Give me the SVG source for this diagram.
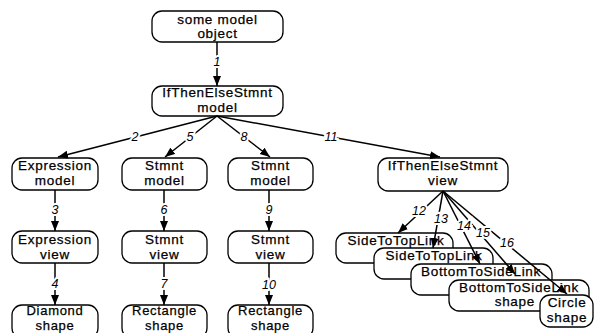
<svg xmlns="http://www.w3.org/2000/svg" width="595" height="333" viewBox="0 0 595 333">
  <style>
    .box { fill: #fff; stroke: #000; stroke-width: 1.3; }
    .t { font-family: "Liberation Sans", Arial, sans-serif; font-size: 13.5px; letter-spacing: 0.7px; text-anchor: middle; fill: #000; stroke: #000; stroke-width: 0.25; }
    .s { font-size: 13px; }
    .e { stroke: #000; stroke-width: 1.5; fill: none; marker-end: url(#ah); }
    .n { font-family: "Liberation Sans", Arial, sans-serif; font-size: 12.5px; font-style: italic; text-anchor: middle; fill: #000; stroke: #fff; stroke-width: 4; paint-order: stroke; }
  </style>
  <defs>
    <marker id="ah" viewBox="0 0 10 9" refX="10" refY="4.5" markerWidth="10" markerHeight="9" orient="auto" markerUnits="userSpaceOnUse">
      <path d="M0,0.5 L10,4.5 L0,8.5 z" fill="#000"/>
    </marker>
  </defs>
  <rect width="595" height="333" fill="#fff"/>

  <!-- model objects -->
  <g id="some-model-object">
    <rect class="box" x="152" y="11" width="131" height="31" rx="10"/>
    <text class="t" x="217.5" y="24">some model</text>
    <text class="t" x="217.5" y="38">object</text>
  </g>
  <g id="ifthenelse-model">
    <rect class="box" x="152" y="86" width="131" height="30" rx="10"/>
    <text class="t" x="217.5" y="97">IfThenElseStmnt</text>
    <text class="t" x="217.5" y="112">model</text>
  </g>

  <!-- first row under the statement model -->
  <g id="expression-model">
    <rect class="box" x="12" y="158" width="86" height="32" rx="10"/>
    <text class="t" x="55" y="170">Expression</text>
    <text class="t" x="55" y="185">model</text>
  </g>
  <g id="stmnt-model-a">
    <rect class="box" x="122" y="158" width="85" height="32" rx="10"/>
    <text class="t" x="164.5" y="170">Stmnt</text>
    <text class="t" x="164.5" y="185">model</text>
  </g>
  <g id="stmnt-model-b">
    <rect class="box" x="228" y="158" width="85" height="32" rx="10"/>
    <text class="t" x="270.5" y="170">Stmnt</text>
    <text class="t" x="270.5" y="185">model</text>
  </g>
  <g id="ifthenelse-view">
    <rect class="box" x="378" y="158" width="130" height="33" rx="10"/>
    <text class="t" x="443" y="170">IfThenElseStmnt</text>
    <text class="t" x="443" y="185">view</text>
  </g>

  <!-- views -->
  <g id="expression-view">
    <rect class="box" x="12" y="231" width="86" height="32" rx="10"/>
    <text class="t" x="55" y="244">Expression</text>
    <text class="t" x="55" y="259">view</text>
  </g>
  <g id="stmnt-view-a">
    <rect class="box" x="122" y="231" width="85" height="32" rx="10"/>
    <text class="t" x="164.5" y="244">Stmnt</text>
    <text class="t" x="164.5" y="259">view</text>
  </g>
  <g id="stmnt-view-b">
    <rect class="box" x="228" y="231" width="85" height="32" rx="10"/>
    <text class="t" x="270.5" y="244">Stmnt</text>
    <text class="t" x="270.5" y="259">view</text>
  </g>

  <!-- shapes -->
  <g id="diamond-shape">
    <rect class="box" x="12" y="305" width="86" height="33" rx="10"/>
    <text class="t s" x="55" y="315">Diamond</text>
    <text class="t s" x="55" y="330">shape</text>
  </g>
  <g id="rectangle-shape-a">
    <rect class="box" x="122" y="305" width="85" height="33" rx="10"/>
    <text class="t s" x="164.5" y="315">Rectangle</text>
    <text class="t s" x="164.5" y="330">shape</text>
  </g>
  <g id="rectangle-shape-b">
    <rect class="box" x="228" y="305" width="85" height="33" rx="10"/>
    <text class="t s" x="270.5" y="315">Rectangle</text>
    <text class="t s" x="270.5" y="330">shape</text>
  </g>

  <!-- stacked link shapes of the statement view -->
  <g id="side-to-top-link-a">
    <rect class="box" x="336" y="233" width="117" height="30" rx="10"/>
    <text class="t" x="396" y="245">SideToTopLink</text>
  </g>
  <g id="side-to-top-link-b">
    <rect class="box" x="374" y="248" width="119" height="31" rx="10"/>
    <text class="t" x="434" y="260">SideToTopLink</text>
  </g>
  <g id="bottom-to-side-link-a">
    <rect class="box" x="411" y="264" width="141" height="31" rx="10"/>
    <text class="t" x="481" y="276">BottomToSideLink</text>
  </g>
  <g id="bottom-to-side-link-shape">
    <rect class="box" x="449" y="280" width="140" height="31" rx="10"/>
    <text class="t" x="519" y="292">BottomToSideLink</text>
    <text class="t" x="535" y="306" style="text-anchor:end">shape</text>
  </g>
  <g id="circle-shape">
    <rect class="box" x="540" y="295" width="53" height="32" rx="10"/>
    <text class="t" x="567" y="307">Circle</text>
    <text class="t" x="567" y="322">shape</text>
  </g>

  <!-- numbered connectors -->
  <g id="connectors">
    <line class="e" x1="217" y1="42" x2="217" y2="86"/>
    <line class="e" x1="217" y1="116" x2="58" y2="157"/>
    <line class="e" x1="217" y1="116" x2="165" y2="157"/>
    <line class="e" x1="217" y1="116" x2="270" y2="157"/>
    <line class="e" x1="217" y1="116" x2="440" y2="157"/>
    <line class="e" x1="55" y1="190" x2="55" y2="231"/>
    <line class="e" x1="55" y1="263" x2="55" y2="305"/>
    <line class="e" x1="164" y1="190" x2="164" y2="231"/>
    <line class="e" x1="164" y1="263" x2="164" y2="305"/>
    <line class="e" x1="269" y1="190" x2="269" y2="231"/>
    <line class="e" x1="269" y1="263" x2="269" y2="305"/>
    <line class="e" x1="443" y1="191" x2="398" y2="233"/>
    <line class="e" x1="443" y1="191" x2="433" y2="248"/>
    <line class="e" x1="443" y1="191" x2="480" y2="264"/>
    <line class="e" x1="443" y1="191" x2="515" y2="274"/>
    <line class="e" x1="443" y1="191" x2="567" y2="294"/>

    <text class="n" x="217" y="66">1</text>
    <text class="n" x="135" y="141">2</text>
    <text class="n" x="190" y="141">5</text>
    <text class="n" x="244" y="141">8</text>
    <text class="n" x="331" y="141">11</text>
    <text class="n" x="55" y="214">3</text>
    <text class="n" x="55" y="288">4</text>
    <text class="n" x="164" y="214">6</text>
    <text class="n" x="164" y="288">7</text>
    <text class="n" x="269" y="214">9</text>
    <text class="n" x="269" y="289">10</text>
    <text class="n" x="419" y="215">12</text>
    <text class="n" x="441" y="223">13</text>
    <text class="n" x="464" y="230">14</text>
    <text class="n" x="483" y="237">15</text>
    <text class="n" x="507" y="247">16</text>
  </g>
</svg>
